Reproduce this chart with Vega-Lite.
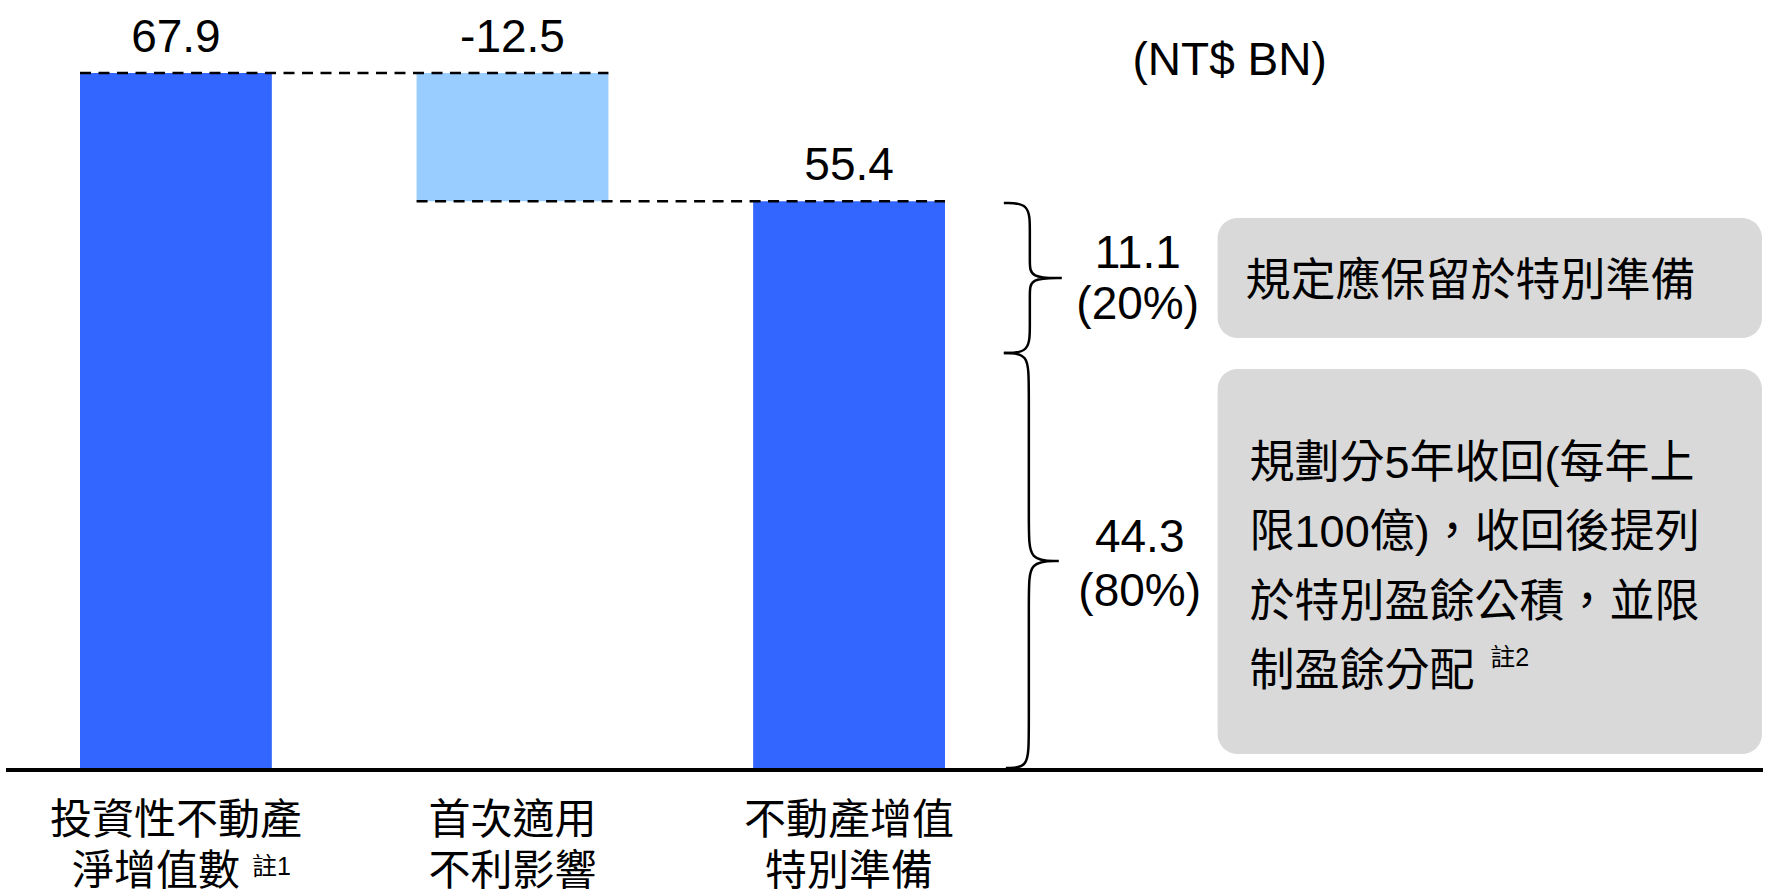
{
  "$schema": "https://vega.github.io/schema/vega-lite/v6.json",
  "width": 1765,
  "height": 896,
  "autosize": {"type": "fit", "contains": "padding"},
  "padding": 0,
  "background": "white",
  "config": {"view": {"stroke": null}},
  "datasets": {
    "steps": [
      {"item": "投資性不動產淨增值數", "line1": "投資性不動產", "line2": "淨增值數", "note": "註1", "start": 0, "end": 67.9, "top": 67.9, "label": "67.9", "kind": "total"},
      {"item": "首次適用不利影響", "line1": "首次適用", "line2": "不利影響", "note": "", "start": 67.9, "end": 55.4, "top": 67.9, "label": "-12.5", "kind": "change"},
      {"item": "不動產增值特別準備", "line1": "不動產增值", "line2": "特別準備", "note": "", "start": 0, "end": 55.4, "top": 55.4, "label": "55.4", "kind": "total"}
    ],
    "connectors": [
      {"from": "投資性不動產淨增值數", "to": "首次適用不利影響", "level": 67.9},
      {"from": "首次適用不利影響", "to": "不動產增值特別準備", "level": 55.4}
    ],
    "allocation": [
      {"part": "reserve", "amount": "11.1", "share": "(20%)", "text": "規定應保留於特別準備", "ref": ""},
      {"part": "recover", "amount": "44.3", "share": "(80%)", "text": "規劃分5年收回(每年上\n限100億)，收回後提列\n於特別盈餘公積，並限\n制盈餘分配", "ref": "註2"}
    ],
    "brace": [
      {"brace": "b1", "i": 1, "x": 1005, "y": 55.235},
      {"brace": "b1", "i": 2, "x": 1031, "y": 55.235},
      {"brace": "b1", "i": 3, "x": 1031, "y": 52.605},
      {"brace": "b1", "i": 4, "x": 1031, "y": 49.487},
      {"brace": "b1", "i": 5, "x": 1031, "y": 47.929},
      {"brace": "b1", "i": 6, "x": 1063, "y": 47.929},
      {"brace": "b1", "i": 7, "x": 1063, "y": 47.929},
      {"brace": "b1", "i": 8, "x": 1063, "y": 47.929},
      {"brace": "b1", "i": 9, "x": 1031, "y": 47.929},
      {"brace": "b1", "i": 10, "x": 1031, "y": 46.370},
      {"brace": "b1", "i": 11, "x": 1031, "y": 43.253},
      {"brace": "b1", "i": 12, "x": 1031, "y": 40.622},
      {"brace": "b1", "i": 13, "x": 1005, "y": 40.622},
      {"brace": "b2", "i": 1, "x": 1005, "y": 40.622},
      {"brace": "b2", "i": 2, "x": 1030, "y": 40.622},
      {"brace": "b2", "i": 3, "x": 1030, "y": 37.505},
      {"brace": "b2", "i": 4, "x": 1030, "y": 23.380},
      {"brace": "b2", "i": 5, "x": 1030, "y": 20.360},
      {"brace": "b2", "i": 6, "x": 1060, "y": 20.360},
      {"brace": "b2", "i": 7, "x": 1060, "y": 20.360},
      {"brace": "b2", "i": 8, "x": 1060, "y": 20.360},
      {"brace": "b2", "i": 9, "x": 1030, "y": 20.360},
      {"brace": "b2", "i": 10, "x": 1030, "y": 17.340},
      {"brace": "b2", "i": 11, "x": 1030, "y": 3.312},
      {"brace": "b2", "i": 12, "x": 1030, "y": 0.195},
      {"brace": "b2", "i": 13, "x": 1007, "y": 0.195}
    ],
    "blank": [{"id": 1}]
  },
  "layer": [
    {
      "data": {"name": "steps"},
      "encoding": {
        "x": {"field": "item", "type": "nominal", "axis": null,
              "scale": {"domain": ["投資性不動產淨增值數", "首次適用不利影響", "不動產增值特別準備"], "range": [80, 945], "paddingInner": 0.43, "paddingOuter": 0, "round": false}}
      },
      "layer": [
        {
          "mark": {"type": "bar"},
          "encoding": {
            "y": {"field": "start", "type": "quantitative", "axis": null, "scale": {"domain": [-12.275, 75.01], "nice": false, "zero": false}},
            "y2": {"field": "end"},
            "color": {"field": "kind", "type": "nominal", "legend": null, "scale": {"domain": ["total", "change"], "range": ["#3366FF", "#99CCFF"]}}
          }
        },
        {
          "mark": {"type": "text", "font": "Liberation Sans", "fontSize": 46, "baseline": "alphabetic", "align": "center", "dy": -21, "color": "#000000"},
          "encoding": {
            "y": {"field": "top", "type": "quantitative", "axis": null, "scale": {"domain": [-12.275, 75.01], "nice": false, "zero": false}},
            "text": {"field": "label", "type": "nominal"}
          }
        },
        {
          "mark": {"type": "text", "font": "Noto Sans CJK TC", "fontSize": 42, "baseline": "middle", "align": "center", "dy": 51, "color": "#000000"},
          "encoding": {
            "y": {"datum": 0, "type": "quantitative", "axis": null, "scale": {"domain": [-12.275, 75.01], "nice": false, "zero": false}},
            "text": {"field": "line1", "type": "nominal"}
          }
        },
        {
          "transform": [{"filter": "datum.note == ''"}],
          "mark": {"type": "text", "font": "Noto Sans CJK TC", "fontSize": 42, "baseline": "middle", "align": "center", "dy": 102, "color": "#000000"},
          "encoding": {
            "y": {"datum": 0, "type": "quantitative", "axis": null, "scale": {"domain": [-12.275, 75.01], "nice": false, "zero": false}},
            "text": {"field": "line2", "type": "nominal"}
          }
        },
        {
          "transform": [{"filter": "datum.note != ''"}],
          "mark": {"type": "text", "font": "Noto Sans CJK TC", "fontSize": 42, "baseline": "middle", "align": "center", "dy": 102, "dx": -20, "color": "#000000"},
          "encoding": {
            "y": {"datum": 0, "type": "quantitative", "axis": null, "scale": {"domain": [-12.275, 75.01], "nice": false, "zero": false}},
            "text": {"field": "line2", "type": "nominal"}
          }
        },
        {
          "transform": [{"filter": "datum.note != ''"}],
          "mark": {"type": "text", "font": "Liberation Sans, Noto Sans CJK TC", "fontSize": 25, "baseline": "alphabetic", "align": "left", "dy": 105, "dx": 76, "color": "#000000"},
          "encoding": {
            "y": {"datum": 0, "type": "quantitative", "axis": null, "scale": {"domain": [-12.275, 75.01], "nice": false, "zero": false}},
            "text": {"field": "note", "type": "nominal"}
          }
        },
        {
          "data": {"name": "connectors"},
          "mark": {"type": "rule", "strokeDash": [11, 7.5], "strokeWidth": 2.5, "color": "#000000"},
          "encoding": {
            "x": {"field": "from", "type": "nominal", "axis": null, "bandPosition": 0,
                  "scale": {"domain": ["投資性不動產淨增值數", "首次適用不利影響", "不動產增值特別準備"], "range": [80, 945], "paddingInner": 0.43, "paddingOuter": 0, "round": false}},
            "x2": {"field": "to", "bandPosition": 1},
            "y": {"field": "level", "type": "quantitative", "axis": null, "scale": {"domain": [-12.275, 75.01], "nice": false, "zero": false}}
          }
        }
      ]
    },
    {
      "layer": [
        {
          "data": {"name": "blank"},
          "mark": {"type": "rule", "strokeWidth": 4, "color": "#000000"},
          "encoding": {
            "x": {"datum": 6, "type": "quantitative", "axis": null, "scale": {"domain": [0, 1765], "nice": false, "zero": false}},
            "x2": {"datum": 1765},
            "y": {"datum": 0, "type": "quantitative", "axis": null, "scale": {"domain": [-12.275, 75.01], "nice": false, "zero": false}}
          }
        },
        {
          "data": {"name": "brace"},
          "mark": {"type": "line", "interpolate": "basis", "strokeWidth": 2.5, "color": "#000000"},
          "encoding": {
            "x": {"field": "x", "type": "quantitative", "axis": null, "scale": {"domain": [0, 1765], "nice": false, "zero": false}},
            "y": {"field": "y", "type": "quantitative", "axis": null, "scale": {"domain": [-12.275, 75.01], "nice": false, "zero": false}},
            "detail": {"field": "brace", "type": "nominal"},
            "order": {"field": "i", "type": "quantitative"}
          }
        },
        {
          "data": {"name": "allocation"},
          "transform": [{"filter": "datum.part == 'reserve'"}],
          "mark": {"type": "rect", "cornerRadius": 20, "color": "#D9D9D9"},
          "encoding": {
            "x": {"datum": 1219, "type": "quantitative", "axis": null, "scale": {"domain": [0, 1765], "nice": false, "zero": false}},
            "x2": {"datum": 1764},
            "y": {"datum": 53.77, "type": "quantitative", "axis": null, "scale": {"domain": [-12.275, 75.01], "nice": false, "zero": false}},
            "y2": {"datum": 42.08}
          }
        },
        {
          "data": {"name": "allocation"},
          "transform": [{"filter": "datum.part == 'recover'"}],
          "mark": {"type": "rect", "cornerRadius": 20, "color": "#D9D9D9"},
          "encoding": {
            "x": {"datum": 1219, "type": "quantitative", "axis": null, "scale": {"domain": [0, 1765], "nice": false, "zero": false}},
            "x2": {"datum": 1764},
            "y": {"datum": 39.06, "type": "quantitative", "axis": null, "scale": {"domain": [-12.275, 75.01], "nice": false, "zero": false}},
            "y2": {"datum": 1.56}
          }
        },
        {
          "data": {"name": "allocation"},
          "transform": [{"filter": "datum.part == 'reserve'"}],
          "mark": {"type": "text", "font": "Noto Sans CJK TC", "fontSize": 45, "align": "left", "baseline": "middle", "color": "#000000"},
          "encoding": {
            "x": {"datum": 1247, "type": "quantitative", "axis": null, "scale": {"domain": [0, 1765], "nice": false, "zero": false}},
            "y": {"datum": 47.54, "type": "quantitative", "axis": null, "scale": {"domain": [-12.275, 75.01], "nice": false, "zero": false}},
            "text": {"field": "text", "type": "nominal"}
          }
        },
        {
          "data": {"name": "allocation"},
          "transform": [{"filter": "datum.part == 'recover'"}],
          "mark": {"type": "text", "font": "Liberation Sans, Noto Sans CJK TC", "fontSize": 45, "align": "left", "baseline": "middle", "lineBreak": "\n", "lineHeight": 69.5, "color": "#000000"},
          "encoding": {
            "x": {"datum": 1251, "type": "quantitative", "axis": null, "scale": {"domain": [0, 1765], "nice": false, "zero": false}},
            "y": {"datum": 29.81, "type": "quantitative", "axis": null, "scale": {"domain": [-12.275, 75.01], "nice": false, "zero": false}},
            "text": {"field": "text", "type": "nominal"}
          }
        },
        {
          "data": {"name": "allocation"},
          "transform": [{"filter": "datum.part == 'recover'"}],
          "mark": {"type": "text", "font": "Liberation Sans, Noto Sans CJK TC", "fontSize": 25, "align": "left", "baseline": "alphabetic", "color": "#000000"},
          "encoding": {
            "x": {"datum": 1492, "type": "quantitative", "axis": null, "scale": {"domain": [0, 1765], "nice": false, "zero": false}},
            "y": {"datum": 10.13, "type": "quantitative", "axis": null, "scale": {"domain": [-12.275, 75.01], "nice": false, "zero": false}},
            "text": {"field": "ref", "type": "nominal"}
          }
        },
        {
          "data": {"name": "allocation"},
          "transform": [{"filter": "datum.part == 'reserve'"}],
          "mark": {"type": "text", "font": "Liberation Sans", "fontSize": 46, "align": "center", "baseline": "alphabetic", "color": "#000000"},
          "encoding": {
            "x": {"datum": 1139, "type": "quantitative", "axis": null, "scale": {"domain": [0, 1765], "nice": false, "zero": false}},
            "y": {"datum": 48.9, "type": "quantitative", "axis": null, "scale": {"domain": [-12.275, 75.01], "nice": false, "zero": false}},
            "text": {"field": "amount", "type": "nominal"}
          }
        },
        {
          "data": {"name": "allocation"},
          "transform": [{"filter": "datum.part == 'reserve'"}],
          "mark": {"type": "text", "font": "Liberation Sans", "fontSize": 46, "align": "center", "baseline": "alphabetic", "dy": 51, "color": "#000000"},
          "encoding": {
            "x": {"datum": 1139, "type": "quantitative", "axis": null, "scale": {"domain": [0, 1765], "nice": false, "zero": false}},
            "y": {"datum": 48.9, "type": "quantitative", "axis": null, "scale": {"domain": [-12.275, 75.01], "nice": false, "zero": false}},
            "text": {"field": "share", "type": "nominal"}
          }
        },
        {
          "data": {"name": "allocation"},
          "transform": [{"filter": "datum.part == 'recover'"}],
          "mark": {"type": "text", "font": "Liberation Sans", "fontSize": 46, "align": "center", "baseline": "alphabetic", "color": "#000000"},
          "encoding": {
            "x": {"datum": 1141, "type": "quantitative", "axis": null, "scale": {"domain": [0, 1765], "nice": false, "zero": false}},
            "y": {"datum": 21.24, "type": "quantitative", "axis": null, "scale": {"domain": [-12.275, 75.01], "nice": false, "zero": false}},
            "text": {"field": "amount", "type": "nominal"}
          }
        },
        {
          "data": {"name": "allocation"},
          "transform": [{"filter": "datum.part == 'recover'"}],
          "mark": {"type": "text", "font": "Liberation Sans", "fontSize": 46, "align": "center", "baseline": "alphabetic", "dy": 54, "color": "#000000"},
          "encoding": {
            "x": {"datum": 1141, "type": "quantitative", "axis": null, "scale": {"domain": [0, 1765], "nice": false, "zero": false}},
            "y": {"datum": 21.24, "type": "quantitative", "axis": null, "scale": {"domain": [-12.275, 75.01], "nice": false, "zero": false}},
            "text": {"field": "share", "type": "nominal"}
          }
        },
        {
          "data": {"name": "blank"},
          "mark": {"type": "text", "font": "Liberation Sans", "fontSize": 46, "align": "center", "baseline": "alphabetic", "color": "#000000"},
          "encoding": {
            "x": {"datum": 1231, "type": "quantitative", "axis": null, "scale": {"domain": [0, 1765], "nice": false, "zero": false}},
            "y": {"datum": 67.7, "type": "quantitative", "axis": null, "scale": {"domain": [-12.275, 75.01], "nice": false, "zero": false}},
            "text": {"value": "(NT$ BN)"}
          }
        }
      ]
    }
  ],
  "resolve": {"scale": {"x": "independent"}}
}
